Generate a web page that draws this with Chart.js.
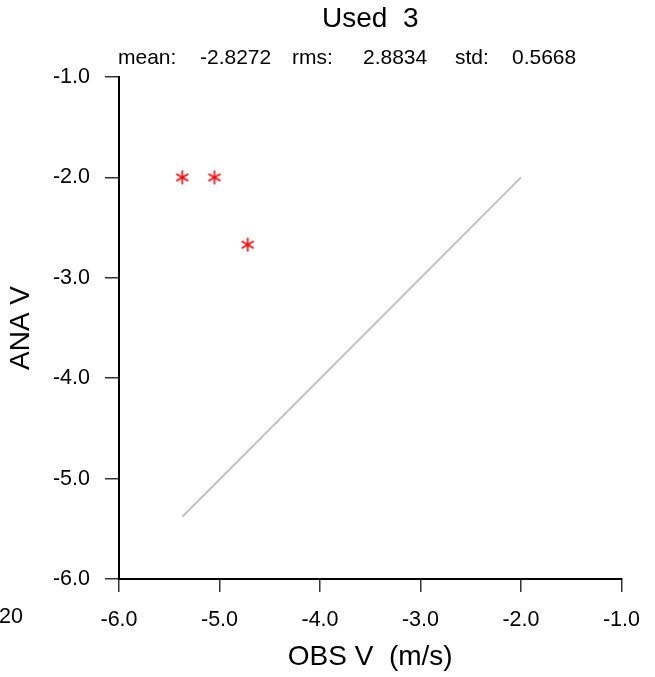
<!DOCTYPE html>
<html>
<head>
<meta charset="utf-8">
<script src="https://cdn.jsdelivr.net/npm/chart.js@4/dist/chart.umd.min.js"></script>
<style>
  html, body { margin: 0; padding: 0; background: #fff; }
  #grafico { display: block; }
</style>
</head>
<body>
<canvas id="grafico" width="655" height="677"></canvas>
<script>
// dados
const obsV = [-5.37, -5.05, -4.72];
const anaV = [-2.0, -2.0, -2.67];
const linhaX = [-5.37, -2.0];
const linhaY = [-5.38, -2.0];
const titulo = 'Used  3';
const estatisticas = ['mean:', '-2.8272', 'rms:', '2.8834', 'std:', '0.5668'];

// marcador asterisco (6 bracos)
function asterisco(r, cor) {
  const c = document.createElement('canvas');
  c.width = c.height = r * 2 + 2;
  const g = c.getContext('2d');
  g.strokeStyle = cor;
  g.lineWidth = 1.6;
  const m = r + 1;
  for (let i = 0; i < 3; i++) {
    const a = Math.PI / 2 + i * Math.PI / 3;
    g.beginPath();
    g.moveTo(m - r * Math.cos(a), m - r * Math.sin(a));
    g.lineTo(m + r * Math.cos(a), m + r * Math.sin(a));
    g.stroke();
  }
  return c;
}

const familia = '"Liberation Sans", Arial, sans-serif';

const textos = {
  id: 'textos',
  afterDraw(chart) {
    const g = chart.ctx;
    const a = chart.chartArea;
    const cx = (a.left + a.right) / 2;
    g.save();
    g.fillStyle = '#000';
    g.textBaseline = 'middle';
    g.textAlign = 'center';
    g.font = '28px ' + familia;
    g.fillText(titulo, cx, 19);
    g.font = '21px ' + familia;
    g.textAlign = 'left';
    const xs = [118, 200, 292, 363, 455, 512];
    estatisticas.forEach((t, i) => g.fillText(t, xs[i], 58));
    g.font = '21.5px ' + familia;
    g.fillText('20', -1, 617);
    g.restore();
  }
};

const ctx = document.getElementById('grafico').getContext('2d');
const fonteTick = { family: familia, size: 21.5 };
const fonteTitulo = { family: familia, size: 28 };

new Chart(ctx, {
  type: 'scatter',
  data: {
    datasets: [
      {
        data: obsV.map((v, i) => ({ x: v, y: anaV[i] })),
        pointStyle: asterisco(7, '#ff0000'),
        pointRadius: 7,
        showLine: false
      },
      {
        data: linhaX.map((v, i) => ({ x: v, y: linhaY[i] })),
        showLine: true,
        borderColor: '#c0c0c0',
        borderWidth: 2,
        pointRadius: 0
      }
    ]
  },
  options: {
    responsive: false,
    animation: false,
    layout: { padding: { top: 77, right: 33, left: 0, bottom: 0 } },
    plugins: { legend: { display: false }, tooltip: { enabled: false } },
    scales: {
      x: {
        min: -6, max: -1,
        afterFit: s => { s.height = 98; },
        ticks: { stepSize: 1, color: '#000', font: fonteTick, padding: 15, maxRotation: 0,
                 callback: v => v.toFixed(1) },
        grid: { drawOnChartArea: false, drawTicks: true, tickLength: 13, color: '#333', lineWidth: 1.5 },
        border: { display: true, color: '#000', width: 2 },
        title: { display: true, text: 'OBS V  (m/s)', color: '#000', font: fonteTitulo, padding: { top: 0, bottom: 3 } }
      },
      y: {
        min: -6, max: -1,
        afterFit: s => { s.width = 119; },
        ticks: { stepSize: 1, color: '#000', font: fonteTick, padding: 15,
                 callback: v => v.toFixed(1) },
        grid: { drawOnChartArea: false, drawTicks: true, tickLength: 14, color: '#333', lineWidth: 1.5 },
        border: { display: true, color: '#000', width: 2 },
        title: { display: true, text: 'ANA V', color: '#000', font: fonteTitulo, padding: { top: 4, bottom: 0 } }
      }
    }
  },
  plugins: [textos]
});
</script>
</body>
</html>
